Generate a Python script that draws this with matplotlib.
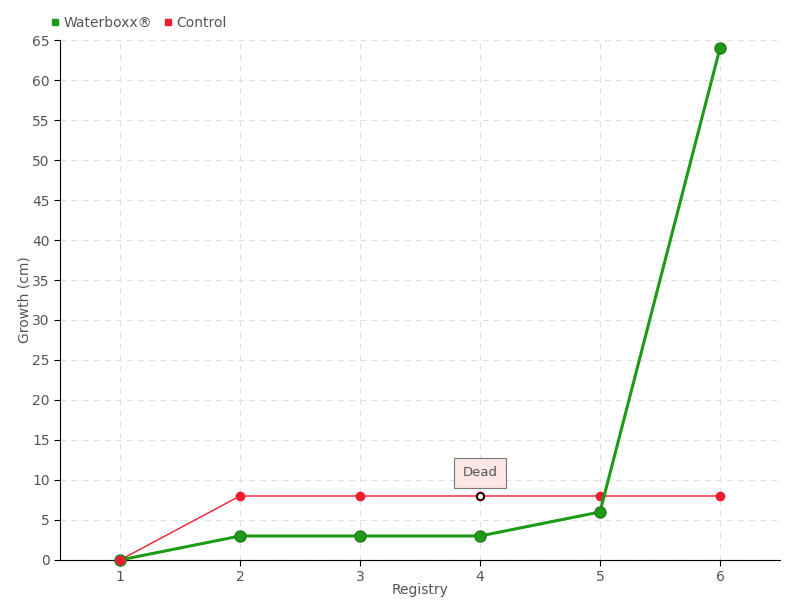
import matplotlib
matplotlib.use("Agg")
import matplotlib.pyplot as plt
from matplotlib.lines import Line2D

registry = [1, 2, 3, 4, 5, 6]
waterboxx = [0, 3, 3, 3, 6, 64]
control = [0, 8, 8, 8, 8, 8]
y_ticks = list(range(0, 70, 5))

green = "#1e9b16"
red = "#ee1c2e"
txt = "#555555"

plt.rcParams["font.family"] = "DejaVu Sans"

fig = plt.figure(figsize=(8, 6), dpi=100)
ax = fig.add_axes([0.075, 0.0667, 0.9, 0.8666])

ax.plot(registry, control, color=red, lw=1, marker="o", ms=6, zorder=3, clip_on=False)
ax.plot(registry, waterboxx, color=green, lw=2.2, marker="o", ms=8,
        markeredgecolor="#2a7a22", zorder=4, clip_on=False)
ax.plot(registry[0], control[0], marker="o", ms=6, color=red, zorder=5, clip_on=False)

# dead marker
ax.plot(4, control[3], marker="o", ms=5, markerfacecolor="white",
        markeredgecolor="black", markeredgewidth=1.2, zorder=6)
ax.annotate("Dead", xy=(4, control[3]), xytext=(0, 12), textcoords="offset points",
            ha="center", va="bottom", fontsize=9.5, color=txt,
            bbox=dict(boxstyle="square,pad=0.65", fc="#fde6e6", ec="#777777", lw=0.8),
            zorder=7)

ax.set_xlim(0.5, 6.5)
ax.set_ylim(0, 65)
ax.set_xticks(registry)
ax.set_yticks(y_ticks)
ax.tick_params(labelsize=10, colors=txt, length=4)
ax.tick_params(axis="both", color="black")
ax.grid(True, color="#e0e0e0", ls=(0, (5, 5)), lw=0.8)
ax.set_axisbelow(True)
for s in ["top", "right"]:
    ax.spines[s].set_visible(False)
ax.spines["left"].set_color("black")
ax.spines["bottom"].set_color("black")

ax.set_xlabel("Registry", color=txt, fontsize=10, labelpad=-1)
ax.set_ylabel("Growth (cm)", color=txt, fontsize=10, labelpad=0)

handles = [Line2D([], [], ls="none", marker="s", ms=5, color=green),
           Line2D([], [], ls="none", marker="s", ms=5, color=red)]
leg = fig.legend(handles, ["Waterboxx\u00ae", "Control"], loc="upper left",
                 bbox_to_anchor=(0.052, 0.99), ncol=2, frameon=False,
                 fontsize=10, handlelength=0.6, handletextpad=0.3,
                 columnspacing=0.8, borderpad=0.2)
for t in leg.get_texts():
    t.set_color(txt)

fig.savefig("out.png", dpi=100)
